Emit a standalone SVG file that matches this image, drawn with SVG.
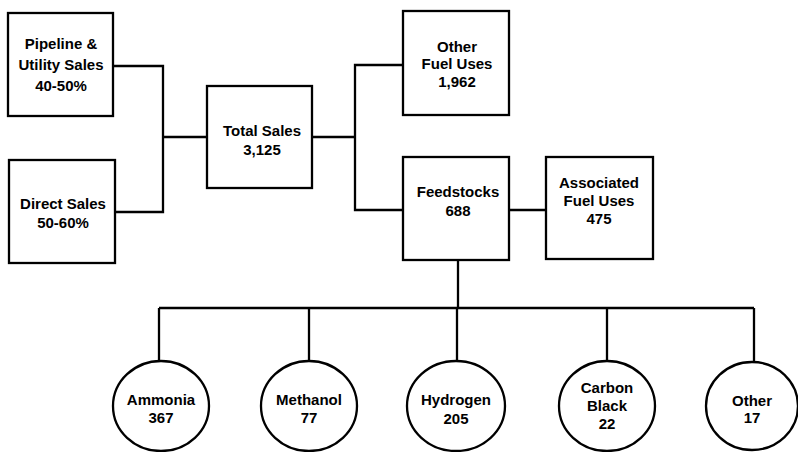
<svg xmlns="http://www.w3.org/2000/svg" width="798" height="452" viewBox="0 0 798 452">
<style>
.box{fill:#fff;stroke:#000;stroke-width:2.3}
.con{fill:none;stroke:#000;stroke-width:2.3}
text{font-family:"Liberation Sans",Arial,Helvetica,sans-serif;font-weight:bold;font-size:15px;fill:#000;text-anchor:middle}
</style>
<rect width="798" height="452" fill="#fff"/>
<g id="connectors" class="con">
<polyline points="113,66 163,66 163,212 115,212"/>
<line x1="163" y1="137" x2="207" y2="137"/>
<line x1="312" y1="137" x2="355" y2="137"/>
<polyline points="403,65 355,65 355,210 403,210"/>
<line x1="509" y1="210" x2="546" y2="210"/>
<line x1="458" y1="260" x2="458" y2="308"/>
<line x1="159" y1="308" x2="754" y2="308"/>
<line x1="159" y1="308" x2="159" y2="361"/>
<line x1="309" y1="308" x2="309" y2="361"/>
<line x1="457" y1="308" x2="457" y2="361"/>
<line x1="607" y1="308" x2="607" y2="361"/>
<line x1="754" y1="308" x2="754" y2="362"/>
</g>
<g id="pipeline">
<rect class="box" x="8" y="13" width="105" height="103"/>
<text x="61" y="49">Pipeline &amp;</text>
<text x="61" y="70">Utility Sales</text>
<text x="61" y="91">40-50%</text>
</g>
<g id="direct">
<rect class="box" x="9" y="160" width="106" height="103"/>
<text x="63" y="209">Direct Sales</text>
<text x="63" y="228">50-60%</text>
</g>
<g id="total">
<rect class="box" x="207" y="86" width="105" height="102"/>
<text x="262" y="136">Total Sales</text>
<text x="262" y="155">3,125</text>
</g>
<g id="otherfuel">
<rect class="box" x="403" y="11" width="106" height="104"/>
<text x="457" y="52">Other</text>
<text x="457" y="69">Fuel Uses</text>
<text x="457" y="87">1,962</text>
</g>
<g id="feedstocks">
<rect class="box" x="403" y="157" width="106" height="103"/>
<text x="458" y="197">Feedstocks</text>
<text x="458" y="216">688</text>
</g>
<g id="associated">
<rect class="box" x="546" y="157" width="107" height="102"/>
<text x="599" y="188">Associated</text>
<text x="599" y="206">Fuel Uses</text>
<text x="599" y="224">475</text>
</g>
<g id="ammonia">
<ellipse class="box" cx="161" cy="406" rx="48" ry="45"/>
<text x="161" y="405">Ammonia</text>
<text x="161" y="423">367</text>
</g>
<g id="methanol">
<ellipse class="box" cx="309" cy="406" rx="48" ry="45"/>
<text x="309" y="405">Methanol</text>
<text x="309" y="423">77</text>
</g>
<g id="hydrogen">
<ellipse class="box" cx="456" cy="406" rx="49" ry="45"/>
<text x="456" y="405">Hydrogen</text>
<text x="456" y="424">205</text>
</g>
<g id="carbonblack">
<ellipse class="box" cx="607" cy="406" rx="48" ry="45"/>
<text x="607" y="393">Carbon</text>
<text x="607" y="411">Black</text>
<text x="607" y="429">22</text>
</g>
<g id="other">
<ellipse class="box" cx="752" cy="406" rx="46" ry="44"/>
<text x="752" y="406">Other</text>
<text x="752" y="423">17</text>
</g>
</svg>
